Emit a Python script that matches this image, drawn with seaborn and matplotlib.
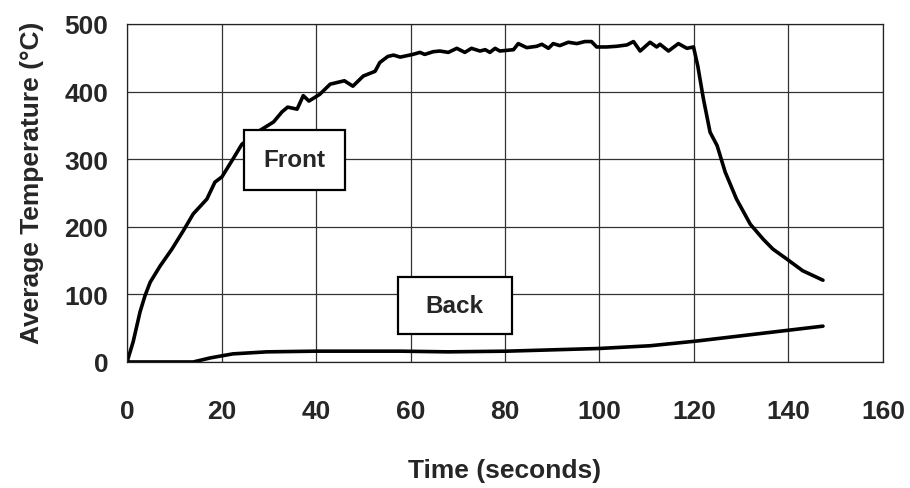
import matplotlib
matplotlib.use("Agg")
import pandas as pd
import seaborn as sns
from matplotlib import pyplot as plt
from matplotlib.patches import Rectangle

# front face temperature
front_time = [0, 1.3, 2.75, 3.8, 4.9, 7, 9.5, 11.9, 14, 16.9, 18.6, 20.1, 22.4, 24.3,
              28, 31, 32.8, 34, 36, 37.3, 38.5, 40.8, 43, 46, 47.8, 50, 52.5, 53.5,
              55.2, 56.4, 57.8, 60.5, 62, 63, 64.8, 66.2, 68, 69.8, 71.5, 72.9, 74.7,
              75.8, 76.8, 77.9, 78.9, 81.8, 82.8, 84.6, 86.7, 87.8, 89.2, 90.2, 91.6,
              93.4, 95.2, 96.9, 98.3, 99.4, 101.5, 103.6, 105.8, 107.2, 108.6, 110.7,
              112.1, 112.8, 114.6, 116.7, 118.5, 119.9, 120.8, 122,
              123.4, 124.9, 126.6, 129, 131.9, 134.6, 136.7, 139.7, 143, 147.3]
front_temp = [0, 30, 74, 98, 118, 142, 167, 194, 219, 241, 266, 274, 300, 322,
              342, 355, 370, 377, 374, 394, 386, 396, 411, 416, 408, 423, 430, 443,
              452, 454, 451, 455, 458, 455, 459, 460, 458, 464, 458, 464, 460,
              462, 458, 464, 460, 462, 471, 465, 467, 470, 464, 471, 468,
              473, 471, 474, 474, 466, 466, 467, 469, 474, 460, 473,
              466, 470, 460, 471, 464, 466, 438, 389,
              340, 320, 281, 241, 204, 182, 167, 152, 135, 121]

# back face temperature
back_time = [0, 14, 17.6, 22.4, 29.6, 40, 57.8, 68, 80.4, 100, 110.7, 120.6, 138.8, 147.3]
back_temp = [0, 0, 6, 12, 15, 16, 16, 15, 16, 20, 24, 31, 46, 53]

x_ticks = [0, 20, 40, 60, 80, 100, 120, 140, 160]
y_ticks = [0, 100, 200, 300, 400, 500]

# label boxes: text, (x0, x1), (y0, y1) in data units
labels = ["Front", "Back"]
label_x = [(24.8, 46.1), (57.3, 81.5)]
label_y = [(255, 343), (41, 126)]

df = pd.concat([
    pd.DataFrame({"time": front_time, "temp": front_temp, "side": "Front"}),
    pd.DataFrame({"time": back_time, "temp": back_temp, "side": "Back"}),
])

sns.set_style("white")
plt.rcParams["font.family"] = ["Liberation Sans", "DejaVu Sans"]
plt.rcParams["font.weight"] = "bold"

fig = plt.figure(figsize=(9.1, 4.89), dpi=100)
ax = fig.add_axes([0.1396, 0.2577, 0.8307, 0.6912])

sns.lineplot(data=df, x="time", y="temp", units="side", estimator=None,
             color="black", linewidth=2.6, sort=False, ax=ax)

ax.set_xlim(0, 160)
ax.set_ylim(0, 500)
ax.set_xticks(x_ticks)
ax.set_yticks(y_ticks)
ax.grid(True, color="#333333", linewidth=0.9)
for s in ax.spines.values():
    s.set_color("#222222")
    s.set_linewidth(0.9)
ax.tick_params(direction="out", length=4.5, width=0.9, color="#222222",
               labelsize=19)
ax.tick_params(axis="y", pad=9)
ax.tick_params(axis="x", pad=22)
for lab in ax.get_xticklabels() + ax.get_yticklabels():
    lab.set_fontweight("bold")

ax.set_xlabel("Time (seconds)", fontsize=19, fontweight="bold", labelpad=25.5)
ax.set_ylabel("Average Temperature (\u00b0C)", fontsize=19, fontweight="bold")
ax.yaxis.set_label_coords(-0.11, 0.533)

for txt, (x0, x1), (y0, y1) in zip(labels, label_x, label_y):
    ax.add_patch(Rectangle((x0, y0), x1 - x0, y1 - y0, facecolor="white",
                           edgecolor="black", linewidth=1.6, zorder=5))
    ax.text((x0 + x1) / 2, (y0 + y1) / 2, txt, fontsize=17.5, fontweight="bold",
            ha="center", va="center", zorder=6)

fig.savefig("out.png", dpi=100)
